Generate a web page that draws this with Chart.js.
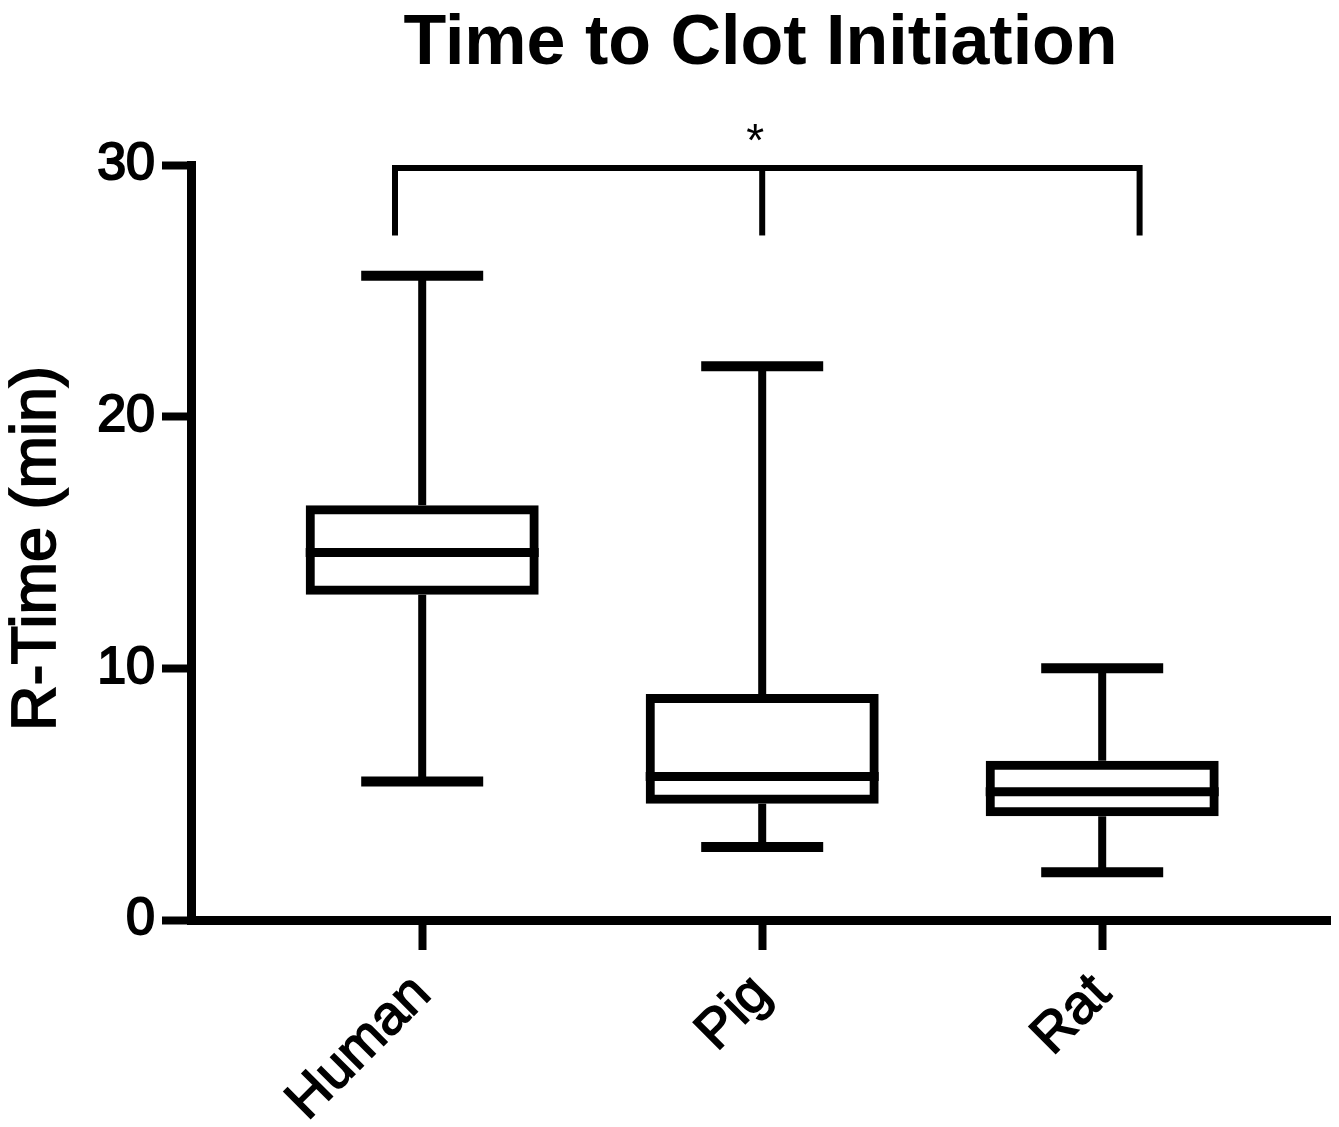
<!DOCTYPE html>
<html>
<head>
<meta charset="utf-8">
<title>Time to Clot Initiation</title>
<script src="https://cdn.jsdelivr.net/npm/chart.js@4.4.1/dist/chart.umd.min.js"></script>
<style>
  html, body { margin: 0; padding: 0; background: #fff; }
  #wrap { width: 1339px; height: 1127px; position: relative; }
</style>
</head>
<body>
<div id="wrap"><canvas id="chart"></canvas></div>
<script>
// Values (minutes)
const categories = ['Human', 'Pig', 'Rat'];
const whiskerLow = [5.5, 2.9, 1.9];
const q1 = [13.1, 4.8, 4.3];
const medians = [14.6, 5.7, 5.1];
const q3 = [16.3, 8.8, 6.15];
const whiskerHigh = [25.6, 22.0, 10.0];
const yTicks = [0, 10, 20, 30];
const yTitle = 'R-Time (min)';

// Significance bracket: x in category units, y in minutes
const bracketX = [0.92, 2, 3.11];
const bracketY = [29.88, 27.2];
const bracketLabel = '*';

const FONT = '"Liberation Sans", Arial, Helvetica, sans-serif';
const BOX_LINE = 9;

function line(ctx, x1, y1, x2, y2) {
  ctx.beginPath();
  ctx.moveTo(x1, y1);
  ctx.lineTo(x2, y2);
  ctx.stroke();
}

// Whiskers, medians and the bracket, all placed through the chart scales
const boxExtras = {
  id: 'boxExtras',
  afterDatasetsDraw(chart) {
    const { ctx, scales: { x, y } } = chart;
    const bars = chart.getDatasetMeta(0).data;
    ctx.save();
    ctx.strokeStyle = '#000';
    ctx.fillStyle = '#000';
    ctx.lineCap = 'butt';

    bars.forEach((bar, i) => {
      const cx = bar.x;
      const half = bar.width / 2 + BOX_LINE / 2;
      const capHalf = 61;
      const yHi = y.getPixelForValue(whiskerHigh[i]);
      const yLo = y.getPixelForValue(whiskerLow[i]);

      ctx.lineWidth = 8;
      line(ctx, cx, y.getPixelForValue(q3[i]) - BOX_LINE / 2, cx, yHi);
      line(ctx, cx, y.getPixelForValue(q1[i]) + BOX_LINE / 2, cx, yLo);

      ctx.lineWidth = 10;
      line(ctx, cx - capHalf, yHi, cx + capHalf, yHi);
      line(ctx, cx - capHalf, yLo, cx + capHalf, yLo);

      ctx.lineWidth = 9;
      const ym = y.getPixelForValue(medians[i]);
      line(ctx, cx - half, ym, cx + half, ym);
    });

    // bracket
    const xl = x.getPixelForValue(bracketX[0]);
    const xm = x.getPixelForValue(bracketX[1]);
    const xr = x.getPixelForValue(bracketX[2]);
    const yt = y.getPixelForValue(bracketY[0]);
    const yb = y.getPixelForValue(bracketY[1]);
    ctx.lineWidth = 6;
    ctx.lineJoin = 'miter';
    ctx.beginPath();
    ctx.moveTo(xl, yb);
    ctx.lineTo(xl, yt);
    ctx.lineTo(xr, yt);
    ctx.lineTo(xr, yb);
    ctx.stroke();
    line(ctx, xm, yt, xm, yb);

    ctx.font = '46px ' + FONT;
    ctx.textAlign = 'center';
    ctx.textBaseline = 'alphabetic';
    ctx.fillText(bracketLabel, xm - 7, yt - 12);

    // y axis title, medium weight (fill + thin stroke)
    const area = chart.chartArea;
    ctx.translate(38, (area.top + area.bottom) / 2 + 6);
    ctx.rotate(-Math.PI / 2);
    ctx.font = '63px ' + FONT;
    ctx.textBaseline = 'middle';
    ctx.lineWidth = 1.8;
    ctx.fillText(yTitle, 0, 0);
    ctx.strokeText(yTitle, 0, 0);
    ctx.restore();
  }
};

const ctx = document.getElementById('chart').getContext('2d');
const chart = new Chart(ctx, {
  type: 'bar',
  data: {
    datasets: [{
      label: 'R-Time',
      data: categories.map((c, i) => ({ x: i + 1, y: [q1[i], q3[i]] })),
      backgroundColor: '#fff',
      borderColor: '#000',
      borderWidth: BOX_LINE,
      borderSkipped: false,
      inflateAmount: BOX_LINE / 2,
      barThickness: 224
    }]
  },
  options: {
    responsive: true,
    maintainAspectRatio: false,
    animation: false,
    layout: { padding: { left: 0, right: 9, top: 0, bottom: 0 } },
    plugins: {
      legend: { display: false },
      tooltip: { enabled: false },
      title: {
        display: true,
        text: 'Time to Clot Initiation',
        fullSize: false,
        color: '#000',
        font: { family: FONT, size: 70, weight: 'bold' },
        padding: { top: 3, bottom: 78 }
      }
    },
    scales: {
      x: {
        type: 'linear',
        min: 0.32,
        max: 3.67,
        offset: false,
        afterBuildTicks: (scale) => {
          scale.ticks = categories.map((c, i) => ({ value: i + 1 }));
        },
        afterFit: (scale) => { scale.height = 207; },
        border: { display: true, color: '#000', width: 9 },
        grid: {
          offset: false,
          drawOnChartArea: false,
          drawTicks: true,
          tickLength: 30,
          tickWidth: 8,
          tickColor: '#000'
        },
        ticks: {
          color: '#000',
          font: { family: FONT, size: 55, weight: 'normal' },
          textStrokeColor: '#000',
          textStrokeWidth: 1.6,
          minRotation: 45,
          maxRotation: 45,
          padding: 12,
          autoSkip: false,
          callback: (v) => categories[v - 1]
        }
      },
      y: {
        min: 0,
        max: 30,
        afterBuildTicks: (scale) => {
          scale.ticks = yTicks.map(v => ({ value: v }));
        },
        afterFit: (scale) => { scale.width = 191; },
        border: { display: true, color: '#000', width: 9 },
        grid: {
          drawOnChartArea: false,
          drawTicks: true,
          tickLength: 29,
          tickWidth: 8,
          tickColor: '#000'
        },
        ticks: {
          color: '#000',
          font: { family: FONT, size: 52, weight: 'normal' },
          textStrokeColor: '#000',
          textStrokeWidth: 2,
          padding: 7
        },
        title: { display: false }
      }
    }
  },
  plugins: [boxExtras]
});
</script>
</body>
</html>
